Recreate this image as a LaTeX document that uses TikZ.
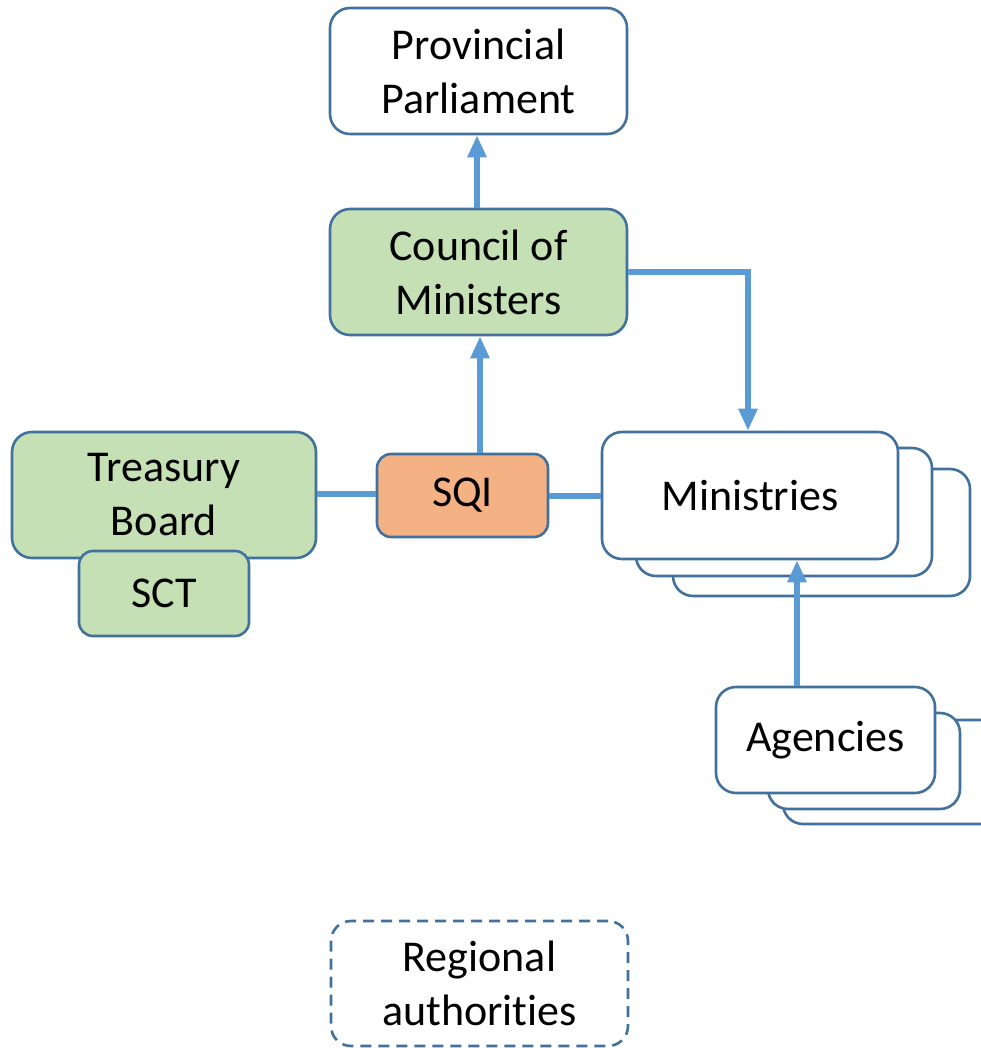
\documentclass[tikz,border=0pt]{standalone}
\usepackage{fontspec}
\setmainfont[Ligatures=NoCommon]{Carlito}
\usetikzlibrary{arrows.meta}
\definecolor{edge}{HTML}{41719C}
\definecolor{arrowc}{HTML}{5B9BD5}
\definecolor{greenf}{HTML}{C5E0B4}
\definecolor{orangef}{HTML}{F4B183}
\tikzset{
  box/.style={draw=edge, line width=2.6pt, rounded corners=20pt, fill=white, align=center, inner sep=0pt, font=\fontsize{44}{54}\selectfont},
  greenbox/.style={box, fill=greenf},
  orangebox/.style={box, fill=orangef, rounded corners=14pt},
  dashbox/.style={box, dash pattern=on 11pt off 7pt},
  conn/.style={draw=arrowc, line width=6pt},
  arr/.style={conn, -{Triangle[length=22pt,width=18pt]}},
}
\begin{document}
\begin{tikzpicture}[x=1pt,y=-1pt]
\useasboundingbox (0,0) rectangle (981,1048);
\begin{scope}
\clip (0,0) rectangle (981,1048);
\node[box, minimum width=297pt, minimum height=126pt] (parl) at (478.5,71) {Provincial\\Parliament};
\node[greenbox, minimum width=297pt, minimum height=126pt] (council) at (478.5,272) {Council of\\Ministers};
\node[greenbox, minimum width=304pt, minimum height=126pt] (treasury) at (164,495) {Treasury\\Board};
\node[greenbox, rounded corners=14pt, minimum width=170pt, minimum height=85pt] (sct) at (164,593.5) {SCT};
\node[orangebox, minimum width=171pt, minimum height=83pt] (sqi) at (462.5,495.5) {SQI};
\node[box, minimum width=297pt, minimum height=127pt] (min3) at (821.5,532.5) {};
\node[box, minimum width=296pt, minimum height=128pt] (min2) at (784,512) {};
\node[box, minimum width=296pt, minimum height=127pt] (min) at (750,495.5) {Ministries};
\node[box, minimum width=220pt, minimum height=104pt] (ag3) at (893,772) {};
\node[box, minimum width=192pt, minimum height=96pt] (ag2) at (864,761) {};
\node[box, minimum width=219pt, minimum height=106pt] (ag) at (825.5,740) {\raisebox{-3pt}{Agencies}};
\node[dashbox, minimum width=297pt, minimum height=125pt] (reg) at (479.5,983.5) {Regional\\authorit\kern0pt ies};
\end{scope}
\coordinate (bend) at (748,272);
\draw[arr] (council.north -| 477,0) -- (parl.south -| 477,0);
\draw[arr] (sqi.north -| 480,0) -- (council.south -| 480,0);
\draw[arr] (council.east |- bend) -- (bend) -- (min.north -| bend);
\draw[arr] (ag.north -| 797,0) -- (min.south -| 797,0);
\draw[conn] (treasury.east |- 0,494) -- (sqi.west |- 0,494);
\draw[conn] (sqi.east |- 0,496) -- (min.west |- 0,496);
\end{tikzpicture}
\end{document}
